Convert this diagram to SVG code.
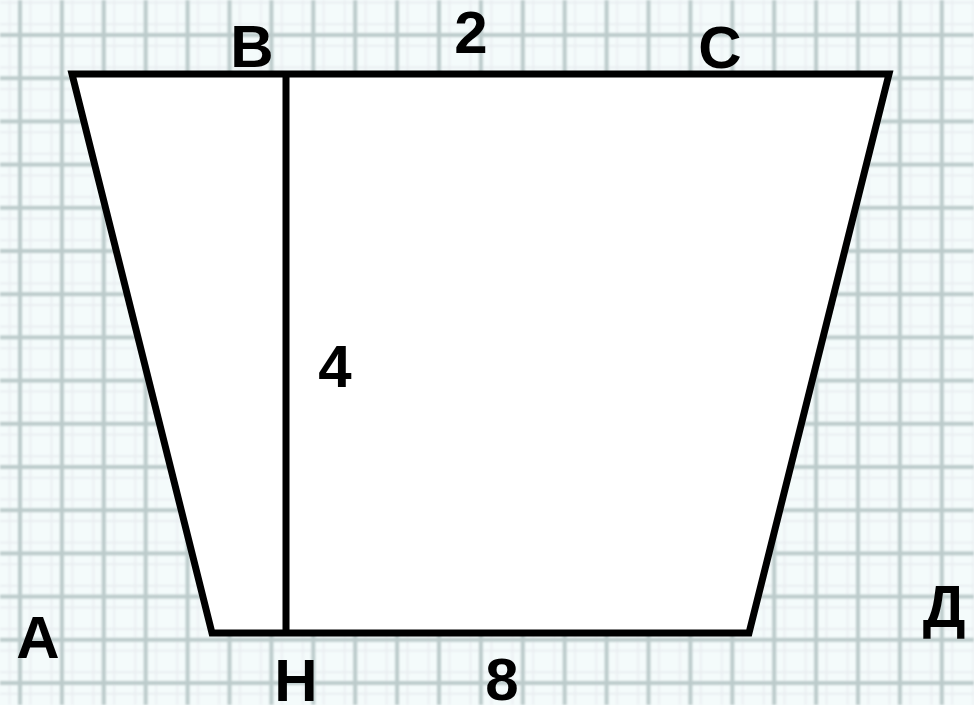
<svg xmlns="http://www.w3.org/2000/svg" width="974" height="705" viewBox="0 0 974 705">
  <style>
    .lbl { font-family: "Liberation Sans", Arial, sans-serif; font-weight: bold; font-size: 60px; fill: #000; text-anchor: middle; }
    .edge { stroke: #000; stroke-width: 7; fill: none; stroke-linejoin: miter; }
    .shape { stroke: #000; stroke-width: 7; fill: #fff; stroke-linejoin: miter; }
  </style>
  <defs>
    <filter id="soft" x="-5%" y="-5%" width="110%" height="110%">
      <feGaussianBlur stdDeviation="1.3"/>
    </filter>
    <pattern id="grid" patternUnits="userSpaceOnUse" x="-0.95" y="13.4" width="41.9" height="43.2">
      <line x1="0" y1="10.8" x2="41.9" y2="10.8" stroke="#e6eaee" stroke-width="1.5"/>
      <line x1="0" y1="32.4" x2="41.9" y2="32.4" stroke="#e6eaee" stroke-width="1.5"/>
      <line x1="10.5" y1="0" x2="10.5" y2="43.2" stroke="#e8ebef" stroke-width="1.5"/>
      <line x1="31.4" y1="0" x2="31.4" y2="43.2" stroke="#e8ebef" stroke-width="1.5"/>
      <line x1="0" y1="21.6" x2="41.9" y2="21.6" stroke="#bccbcb" stroke-width="4"/>
      <line x1="20.95" y1="0" x2="20.95" y2="43.2" stroke="#bccbcb" stroke-width="4"/>
    </pattern>
  </defs>
  <g id="background">
    <rect x="0" y="0" width="974" height="705" fill="#f4fbfb"/>
    <rect x="0" y="0" width="974" height="705" fill="url(#grid)" filter="url(#soft)"/>
  </g>
  <g id="trapezoid">
    <polygon points="72,74 889,74 749,633 212,633" class="shape"/>
  </g>
  <g id="connectors">
    <line id="height-BH" x1="286" y1="74" x2="286" y2="633" class="edge"/>
  </g>
  <g id="labels">
    <g id="label-B"><text class="lbl" x="252" y="67">В</text></g>
    <g id="label-C"><text class="lbl" x="720" y="68">С</text></g>
    <g id="label-A"><text class="lbl" x="38" y="658">А</text></g>
    <g id="label-H"><text class="lbl" x="296" y="701">Н</text></g>
    <g id="label-D"><text class="lbl" x="944" y="627">Д</text></g>
    <g id="len-BC"><text class="lbl" x="471" y="53">2</text></g>
    <g id="len-BH"><text class="lbl" x="335" y="387">4</text></g>
    <g id="len-AD"><text class="lbl" x="502" y="700">8</text></g>
  </g>
</svg>
